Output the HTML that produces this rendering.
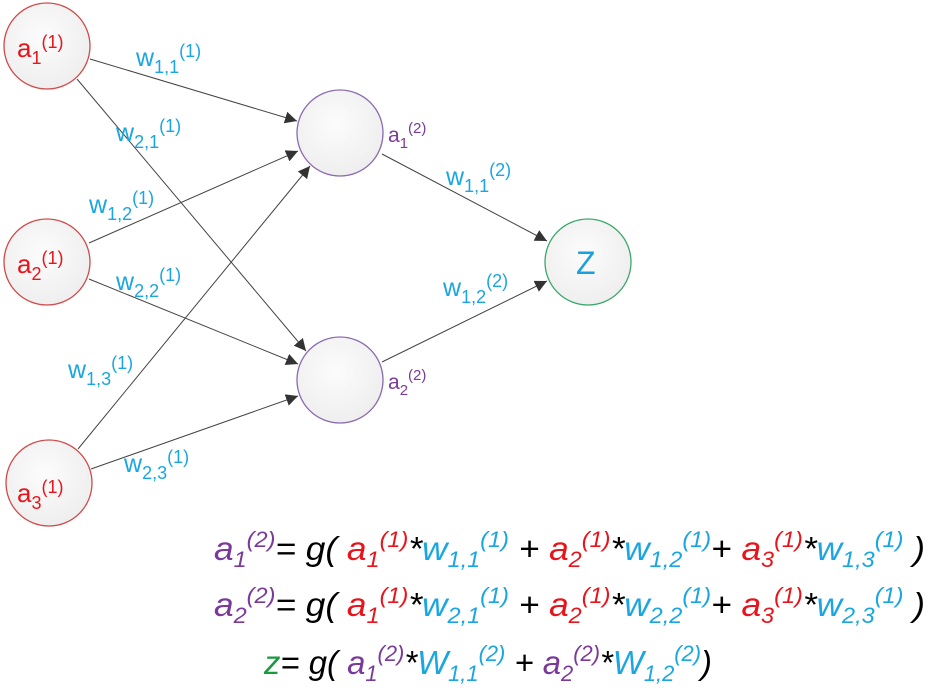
<!DOCTYPE html>
<html><head><meta charset="utf-8"><style>
body{margin:0;background:#fff;width:931px;height:697px;overflow:hidden}
svg{display:block}
.n{font-family:"Liberation Sans",sans-serif}
.eq{font-family:"Liberation Sans",sans-serif;font-style:italic}
</style></head><body>
<svg width="931" height="697" viewBox="0 0 931 697">
<defs>
<radialGradient id="g" cx="0.45" cy="0.4" r="0.7"><stop offset="0" stop-color="#fcfcfc"/><stop offset="1" stop-color="#ececec"/></radialGradient>
<marker id="ar" viewBox="0 0 10 10" refX="10" refY="5" markerWidth="12" markerHeight="12" markerUnits="userSpaceOnUse" orient="auto"><path d="M0,0 L10,5 L0,10 z" fill="#333"/></marker>
</defs>
<g stroke="#444" stroke-width="1" marker-end="url(#ar)">
<line x1="90" y1="59" x2="297" y2="121"/>
<line x1="77" y1="79" x2="306" y2="351"/>
<line x1="89" y1="243" x2="298" y2="151"/>
<line x1="89" y1="279" x2="298" y2="364"/>
<line x1="78" y1="449" x2="310" y2="166"/>
<line x1="91" y1="469" x2="298" y2="396"/>
<line x1="382" y1="154" x2="547" y2="241"/>
<line x1="382" y1="362" x2="547" y2="281"/>
</g>
<g stroke-width="1.3" fill="url(#g)">
<circle cx="47" cy="46" r="43" stroke="#d04a4a"/>
<circle cx="47" cy="262" r="43" stroke="#d04a4a"/>
<circle cx="49" cy="483" r="43" stroke="#d04a4a"/>
<circle cx="340" cy="133" r="43" stroke="#8a6ab0"/>
<circle cx="340" cy="380" r="43" stroke="#8a6ab0"/>
<circle cx="588" cy="262" r="43" stroke="#3aa86a"/>
</g>
<g class="n" fill="#e8141c" font-size="26">
<text x="17" y="57">a<tspan font-size="18" dy="7">1</tspan><tspan font-size="18" dy="-16">(1)</tspan></text>
<text x="17" y="273">a<tspan font-size="18" dy="7">2</tspan><tspan font-size="18" dy="-16">(1)</tspan></text>
<text x="17" y="502">a<tspan font-size="18" dy="7">3</tspan><tspan font-size="18" dy="-16">(1)</tspan></text>
</g>
<g class="n" fill="#7a3a9a" font-size="21">
<text x="388" y="142">a<tspan font-size="15" dy="6">1</tspan><tspan font-size="15" dy="-15">(2)</tspan></text>
<text x="388" y="389">a<tspan font-size="15" dy="6">2</tspan><tspan font-size="15" dy="-15">(2)</tspan></text>
</g>
<text class="n" x="576" y="274" fill="#1aa0e0" font-size="32">Z</text>
<g class="n" fill="#1aa6e0" font-size="25">
<text x="136" y="66">w<tspan font-size="18" dy="7">1,1</tspan><tspan font-size="18" dy="-16">(1)</tspan></text>
<text x="116" y="141">w<tspan font-size="18" dy="7">2,1</tspan><tspan font-size="18" dy="-16">(1)</tspan></text>
<text x="89" y="213">w<tspan font-size="18" dy="7">1,2</tspan><tspan font-size="18" dy="-16">(1)</tspan></text>
<text x="116" y="290">w<tspan font-size="18" dy="7">2,2</tspan><tspan font-size="18" dy="-16">(1)</tspan></text>
<text x="68" y="378">w<tspan font-size="18" dy="7">1,3</tspan><tspan font-size="18" dy="-16">(1)</tspan></text>
<text x="124" y="472">w<tspan font-size="18" dy="7">2,3</tspan><tspan font-size="18" dy="-16">(1)</tspan></text>
<text x="446" y="185">w<tspan font-size="18" dy="7">1,1</tspan><tspan font-size="18" dy="-16">(2)</tspan></text>
<text x="443" y="296">w<tspan font-size="18" dy="7">1,2</tspan><tspan font-size="18" dy="-16">(2)</tspan></text>
</g>
<g class="eq" font-size="33">
<text x="214" y="560" textLength="711" lengthAdjust="spacingAndGlyphs"><tspan fill="#7a3a9a">a</tspan><tspan fill="#7a3a9a" font-size="22" dy="7">1</tspan><tspan fill="#7a3a9a" font-size="22" dy="-20">(2)</tspan><tspan dy="13" fill="#000">= g( </tspan><tspan fill="#e8141c">a</tspan><tspan fill="#e8141c" font-size="22" dy="7">1</tspan><tspan fill="#e8141c" font-size="22" dy="-20">(1)</tspan><tspan dy="13" fill="#000">*</tspan><tspan fill="#1aa6e0">w</tspan><tspan fill="#1aa6e0" font-size="22" dy="7">1,1</tspan><tspan fill="#1aa6e0" font-size="22" dy="-20">(1)</tspan><tspan dy="13" fill="#000"> + </tspan><tspan fill="#e8141c">a</tspan><tspan fill="#e8141c" font-size="22" dy="7">2</tspan><tspan fill="#e8141c" font-size="22" dy="-20">(1)</tspan><tspan dy="13" fill="#000">*</tspan><tspan fill="#1aa6e0">w</tspan><tspan fill="#1aa6e0" font-size="22" dy="7">1,2</tspan><tspan fill="#1aa6e0" font-size="22" dy="-20">(1)</tspan><tspan dy="13" fill="#000">+ </tspan><tspan fill="#e8141c">a</tspan><tspan fill="#e8141c" font-size="22" dy="7">3</tspan><tspan fill="#e8141c" font-size="22" dy="-20">(1)</tspan><tspan dy="13" fill="#000">*</tspan><tspan fill="#1aa6e0">w</tspan><tspan fill="#1aa6e0" font-size="22" dy="7">1,3</tspan><tspan fill="#1aa6e0" font-size="22" dy="-20">(1)</tspan><tspan dy="13" fill="#000">  )</tspan></text>
<text x="214" y="616" textLength="711" lengthAdjust="spacingAndGlyphs"><tspan fill="#7a3a9a">a</tspan><tspan fill="#7a3a9a" font-size="22" dy="7">2</tspan><tspan fill="#7a3a9a" font-size="22" dy="-20">(2)</tspan><tspan dy="13" fill="#000">= g( </tspan><tspan fill="#e8141c">a</tspan><tspan fill="#e8141c" font-size="22" dy="7">1</tspan><tspan fill="#e8141c" font-size="22" dy="-20">(1)</tspan><tspan dy="13" fill="#000">*</tspan><tspan fill="#1aa6e0">w</tspan><tspan fill="#1aa6e0" font-size="22" dy="7">2,1</tspan><tspan fill="#1aa6e0" font-size="22" dy="-20">(1)</tspan><tspan dy="13" fill="#000"> + </tspan><tspan fill="#e8141c">a</tspan><tspan fill="#e8141c" font-size="22" dy="7">2</tspan><tspan fill="#e8141c" font-size="22" dy="-20">(1)</tspan><tspan dy="13" fill="#000">*</tspan><tspan fill="#1aa6e0">w</tspan><tspan fill="#1aa6e0" font-size="22" dy="7">2,2</tspan><tspan fill="#1aa6e0" font-size="22" dy="-20">(1)</tspan><tspan dy="13" fill="#000">+ </tspan><tspan fill="#e8141c">a</tspan><tspan fill="#e8141c" font-size="22" dy="7">3</tspan><tspan fill="#e8141c" font-size="22" dy="-20">(1)</tspan><tspan dy="13" fill="#000">*</tspan><tspan fill="#1aa6e0">w</tspan><tspan fill="#1aa6e0" font-size="22" dy="7">2,3</tspan><tspan fill="#1aa6e0" font-size="22" dy="-20">(1)</tspan><tspan dy="13" fill="#000">  )</tspan></text>
<text x="264" y="674" textLength="448" lengthAdjust="spacingAndGlyphs"><tspan fill="#1a9a40">z</tspan><tspan fill="#000">= g( </tspan><tspan fill="#7a3a9a">a</tspan><tspan fill="#7a3a9a" font-size="22" dy="7">1</tspan><tspan fill="#7a3a9a" font-size="22" dy="-20">(2)</tspan><tspan dy="13" fill="#000">*</tspan><tspan fill="#1aa6e0">W</tspan><tspan fill="#1aa6e0" font-size="22" dy="7">1,1</tspan><tspan fill="#1aa6e0" font-size="22" dy="-20">(2)</tspan><tspan dy="13" fill="#000"> + </tspan><tspan fill="#7a3a9a">a</tspan><tspan fill="#7a3a9a" font-size="22" dy="7">2</tspan><tspan fill="#7a3a9a" font-size="22" dy="-20">(2)</tspan><tspan dy="13" fill="#000">*</tspan><tspan fill="#1aa6e0">W</tspan><tspan fill="#1aa6e0" font-size="22" dy="7">1,2</tspan><tspan fill="#1aa6e0" font-size="22" dy="-20">(2)</tspan><tspan dy="13" fill="#000">)</tspan></text>
</g>
</svg>
</body></html>
